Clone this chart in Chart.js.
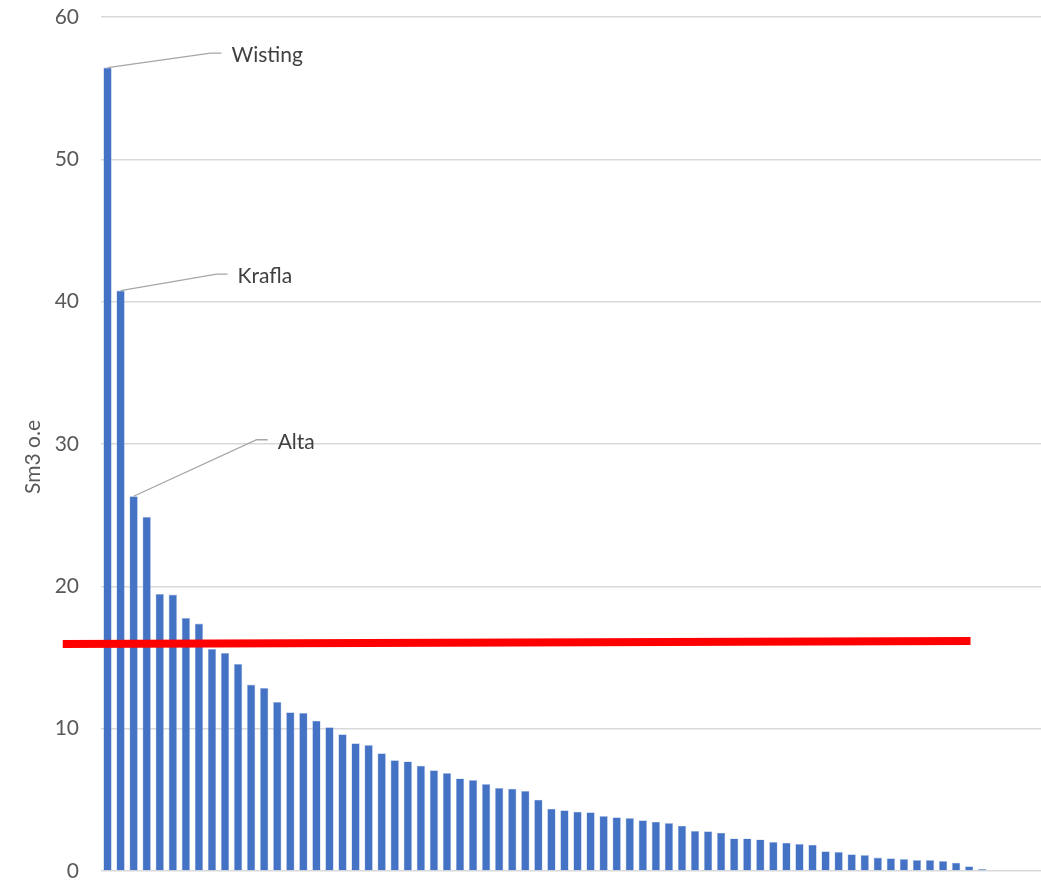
<!DOCTYPE html>
<html>
<head>
<meta charset="utf-8">
<script src="https://cdn.jsdelivr.net/npm/chart.js@4.4.1/dist/chart.umd.min.js"></script>
<style>
  html, body { margin: 0; padding: 0; background: #fff; }
  #wrap { width: 1041px; height: 881px; }
</style>
</head>
<body>
<div id="wrap"><canvas id="fieldChart" width="1041" height="881"></canvas></div>
<script>
// Discoveries sorted by size, Sm3 o.e
const fieldValues = [
    56.45, 40.78, 26.33, 24.88, 19.47, 19.42, 17.78, 17.38, 15.6, 15.32,
    14.55, 13.1, 12.86, 11.88, 11.15, 11.1, 10.56, 10.1, 9.6, 8.97,
    8.85, 8.27, 7.78, 7.7, 7.4, 7.07, 6.88, 6.5, 6.39, 6.11,
    5.83, 5.78, 5.62, 5.01, 4.38, 4.26, 4.17, 4.12, 3.86, 3.77,
    3.72, 3.56, 3.46, 3.37, 3.18, 2.81, 2.79, 2.69, 2.29, 2.29,
    2.22, 2.04, 1.99, 1.9, 1.85, 1.38, 1.34, 1.17, 1.12, 0.94,
    0.89, 0.84, 0.77, 0.77, 0.70, 0.58, 0.33, 0.14
];
const fieldNames = ['Wisting', 'Krafla', 'Alta'];
const slotCount = 72; // axis continues past the last bar
const yTicks = [0, 10, 20, 30, 40, 50, 60];

// red threshold line (x in category units, starts a bit left of the axis)
const thresholdX = [-3.43, 66.1];
const thresholdY = [15.95, 16.16];

const categoryLabels = Array.from({ length: slotCount }, (_, i) => fieldNames[i] || '');

// leader line offsets for the named bars
const callouts = [
    { index: 0, dx: 103, dy: -14.5 },
    { index: 1, dx: 96, dy: -16.5 },
    { index: 2, dx: 123, dy: -56.5 }
];

const FONT = 'Lato, "Open Sans", sans-serif';

const overlayPlugin = {
    id: 'overlay',
    afterDatasetsDraw(chart) {
        const { ctx } = chart;
        const xs = chart.scales.x, ys = chart.scales.y;
        const meta = chart.getDatasetMeta(0);
        ctx.save();

        // threshold line
        ctx.strokeStyle = '#ff0000';
        ctx.lineWidth = 8;
        ctx.beginPath();
        thresholdX.forEach((v, i) => {
            const px = xs.getPixelForValue(v), py = ys.getPixelForValue(thresholdY[i]);
            if (i === 0) ctx.moveTo(px, py); else ctx.lineTo(px, py);
        });
        ctx.stroke();

        // callouts
        ctx.strokeStyle = '#a6a6a6';
        ctx.lineWidth = 1.3;
        ctx.fillStyle = '#404040';
        ctx.font = '21px ' + FONT;
        ctx.textBaseline = 'middle';
        callouts.forEach(c => {
            const bar = meta.data[c.index];
            const ex = bar.x + c.dx, ey = bar.y + c.dy;
            ctx.beginPath();
            ctx.moveTo(bar.x, bar.y);
            ctx.lineTo(ex, ey);
            ctx.lineTo(ex + 11, ey);
            ctx.stroke();
            ctx.fillText(fieldNames[c.index], ex + 21, ey + 2);
        });

        // axis title
        ctx.fillStyle = '#595959';
        ctx.translate(33, 457);
        ctx.rotate(-Math.PI / 2);
        ctx.textAlign = 'center';
        ctx.fillText('Sm3 o.e', 0, 0);
        ctx.restore();
    }
};

new Chart(document.getElementById('fieldChart'), {
    type: 'bar',
    plugins: [overlayPlugin],
    data: {
        labels: categoryLabels,
        datasets: [{
            label: 'Funn',
            data: fieldValues,
            backgroundColor: '#4472c4',
            borderColor: 'rgba(150,175,225,0.8)',
            borderWidth: 0.6,
            categoryPercentage: 1,
            barPercentage: 0.64
        }]
    },
    options: {
        responsive: false,
        animation: false,
        devicePixelRatio: 1,
        layout: { padding: { top: 17, right: 0, bottom: 10, left: 0 } },
        plugins: { legend: { display: false }, tooltip: { enabled: false } },
        scales: {
            x: { display: false },
            y: {
                min: 0, max: 60,
                afterBuildTicks: s => { s.ticks = yTicks.map(v => ({ value: v })); },
                afterFit: s => { s.width = 101; s.paddingTop = 0; s.paddingBottom = 0; },
                border: { display: false },
                grid: { color: '#d9d9d9', lineWidth: 1.5, drawTicks: false },
                ticks: { color: '#595959', font: { family: FONT, size: 21 }, padding: 22 }
            }
        }
    }
});
</script>
</body>
</html>
